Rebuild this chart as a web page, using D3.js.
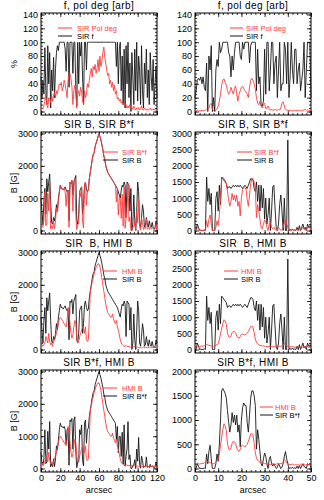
<!DOCTYPE html>
<html>
<head>
<meta charset="utf-8">
<script src="https://cdn.jsdelivr.net/npm/d3@7"></script>
<style>
body { margin: 0; background: #fff; }
svg text { font-family: 'Liberation Sans', Arial, Helvetica, sans-serif; fill: #000; }
</style>
</head>
<body>
<svg width="324" height="500"></svg>
<script>
//scan samples: left scan every 1 arcsec, right scan every 0.5 arcsec
const leftStep = 1;
const rightStep = 0.5;

//left scan (0-120 arcsec)
const leftF = [50,20,45,25,92,30,10,95,40,85,
  5,60,30,78,20,62,85,95,88,100,
  100,100,100,100,100,90,58,100,100,35,
  100,100,100,55,100,100,30,8,100,40,
  100,80,100,50,10,100,100,60,100,100,
  100,100,100,100,100,100,100,100,100,100,
  100,100,100,100,100,100,100,100,100,100,
  100,100,100,100,100,100,100,100,65,100,
  40,90,100,30,80,10,90,5,95,40,
  100,20,70,0,85,50,10,90,30,100,
  15,80,60,10,95,30,5,70,40,90,
  20,60,10,85,50,30,75,10,40,65,
  20];
const leftPol = [3,5,4,8,15,25,10,5,20,18,
  12,25,15,22,28,20,30,25,35,40,
  38,42,30,35,45,40,30,20,45,52,
  55,48,35,10,30,38,35,5,25,30,
  22,35,28,15,10,30,20,25,40,35,
  45,55,62,50,65,60,68,55,62,75,
  58,80,65,72,85,93,78,70,60,52,
  55,40,45,35,42,30,38,25,30,18,
  20,15,18,12,15,10,12,8,10,5,
  8,5,10,4,6,3,8,4,2,5,
  3,6,2,4,8,3,2,5,3,2,
  4,2,3,5,2,3,2,4,2,3,
  2];
const leftB = [1000,600,200,900,1300,500,1600,1200,1500,1750,
  900,250,200,400,300,500,800,600,1000,1200,
  1400,1300,1300,1250,1300,1350,1250,1200,1250,300,
  1500,1450,1550,1100,1500,1600,1700,300,200,500,
  1200,1300,1350,500,800,1400,1500,1300,1200,1250,
  1600,1800,2000,2200,2350,2400,2600,2700,2800,2900,
  3000,2900,2800,2650,2500,2300,2200,2000,1900,1800,
  1750,1700,1650,1600,1550,1500,1450,1400,1350,1300,
  1200,1100,1000,1250,1400,1350,1500,1400,400,1500,
  1450,1400,600,1300,0,200,1100,300,0,600,
  1500,1200,200,100,400,800,600,100,150,400,
  200,100,300,150,100,250,100,50,100,300,
  200];
const leftBf = [500,150,100,300,1200,150,200,1150,600,1450,
  50,150,60,300,60,300,700,570,880,1200,
  1400,1300,1300,1250,1300,1200,750,1200,1250,100,
  1500,1450,1550,600,1500,1600,500,25,200,200,
  1200,1050,1350,250,80,1400,1500,780,1200,1250,
  1600,1800,2000,2200,2350,2400,2600,2700,2800,2900,
  3000,2900,2800,2650,2500,2300,2200,2000,1900,1800,
  1750,1700,1650,1600,1550,1500,1450,1400,880,1300,
  480,990,1000,375,1120,135,1350,70,380,600,
  1450,280,420,0,0,100,110,270,0,600,
  225,960,120,10,380,240,30,70,60,360,
  40,60,30,130,50,75,75,5,40,195,
  40];
const leftHMI = [200,150,100,150,200,400,300,200,500,250,
  150,200,100,250,300,400,500,650,800,950,
  1000,950,900,850,800,750,700,900,1300,1100,
  800,500,350,450,700,900,800,400,200,250,
  400,500,600,700,650,500,700,300,250,300,
  1000,1800,1950,2100,2200,2350,2450,2550,2600,2650,
  2650,2550,2400,2200,2000,1800,1600,1400,1250,1150,
  1100,1050,1000,1000,1100,950,850,800,900,700,
  600,450,300,200,150,120,100,100,120,100,
  90,100,80,70,90,60,80,100,70,60,
  80,50,60,70,50,60,80,50,60,70,
  50,60,80,60,50,70,60,80,60,70,
  60];

//right scan (0-50 arcsec)
const rightF = [20,30,45,48,45,50,40,50,35,30,
  70,0,80,60,95,0,20,0,60,75,
  65,100,85,90,100,100,100,100,100,85,
  80,50,80,60,85,100,100,100,100,80,
  75,100,90,100,100,100,100,70,95,100,
  100,100,100,30,90,40,50,8,8,15,
  90,25,100,100,30,60,100,100,40,70,
  80,20,60,100,30,40,40,100,90,40,
  100,20,50,100,60,40,90,90,40,60,
  70,30,45,60,100,20,60,100,100,100,
  20];
const rightPol = [1,1,2,1,1,1,2,1,1,2,
  3,2,5,10,12,3,1,1,2,4,
  8,15,25,38,45,47,42,38,30,25,
  28,35,30,25,33,37,25,15,25,30,
  35,36,33,30,28,25,20,35,45,48,
  45,40,32,20,12,10,15,8,5,10,
  12,4,5,8,4,2,3,2,2,3,
  2,2,3,2,5,12,14,8,3,2,
  2,1,2,1,1,2,1,2,1,1,
  2,1,1,2,2,3,2,2,1,2,
  1];
const rightB = [0,20,200,100,0,10,0,0,20,0,
  1650,900,1300,800,1150,0,0,0,1000,1200,
  600,1400,800,1650,1600,1550,1500,1450,1300,1350,
  1350,1300,1350,1400,1350,1400,1350,1400,1350,1400,
  1350,1300,1350,1400,1350,1300,1400,1500,1600,1600,
  1550,1300,1200,1500,900,1400,600,1400,700,1300,
  350,1000,200,500,1000,0,600,1350,1400,700,
  100,0,200,800,1100,600,0,1000,0,0,
  2800,0,30,0,50,0,20,0,100,0,
  150,0,100,200,50,100,0,200,100,150,
  100];
const rightBf = [0,10,100,50,0,5,0,0,10,0,
  300,100,350,480,200,0,0,0,100,300,
  150,500,1000,1600,1650,1600,1550,1450,1200,950,
  750,900,1150,950,1100,900,1100,750,900,450,
  1000,1250,1350,1300,1300,950,750,1100,1450,1600,
  1600,1500,1300,400,800,600,350,100,50,200,
  320,250,100,0,200,250,100,50,100,50,
  0,20,100,50,0,30,100,250,350,200,
  100,0,20,0,30,0,15,0,50,0,
  60,0,50,100,40,30,0,100,80,100,
  20];
const rightHMI = [100,100,110,100,90,100,110,100,120,130,
  150,140,130,120,110,100,100,110,130,150,
  180,300,480,650,800,920,880,780,520,400,
  380,420,520,560,550,520,420,370,350,400,
  470,480,460,450,470,500,560,630,710,720,
  690,520,320,220,170,150,130,120,110,110,
  100,100,90,90,90,80,90,100,90,80,
  90,100,90,100,100,110,130,180,160,120,
  100,90,80,80,90,80,70,80,70,80,
  70,80,90,70,80,70,80,90,70,80,
  70];

//tick labels
const leftXTicks = [0, 20, 40, 60, 80, 100, 120];
const rightXTicks = [0, 10, 20, 30, 40, 50];
const pctTicks = [0, 20, 40, 60, 80, 100, 120, 140];
const bTicks1000 = [0, 1000, 2000, 3000];
const bTicks500 = [0, 500, 1000, 1500, 2000, 2500, 3000];
const bTicks2000 = [0, 500, 1000, 1500, 2000];

const RED = '#ff3c3c';
const BLACK = '#161616';

//column geometry
const cols = [
  {x0: 41, x1: 157, max: 120, step: leftStep, ticks: leftXTicks, minor: 4},
  {x0: 195, x1: 311, max: 50, step: rightStep, ticks: rightXTicks, minor: 2}
];
const rowTop = [13, 132, 251, 370];
const rowH = 102;

const titles = ['f, pol deg [arb]', 'SIR B, SIR B*f', 'SIR  B, HMI B', 'SIR B*f, HMI B'];
const yTitles = ['%', 'B [G]', 'B [G]', 'B [G]'];

//each panel: red series drawn over black series
const panels = [
  {col: 0, row: 0, red: leftPol, black: leftF, redName: 'SIR Pol deg', blackName: 'SIR f',
   yMax: 140, yTicks: pctTicks, minorY: 5, leg: [58, 72, 77, 28]},
  {col: 1, row: 0, red: rightPol, black: rightF, redName: 'SIR Pol deg', blackName: 'SIR f',
   yMax: 140, yTicks: pctTicks, minorY: 5, leg: [230, 243, 246, 28]},
  {col: 0, row: 1, red: leftBf, black: leftB, redName: 'SIR B*f', blackName: 'SIR B',
   yMax: 3000, yTicks: bTicks1000, minorY: 200, leg: [103, 118, 122, 152]},
  {col: 1, row: 1, red: rightBf, black: rightB, redName: 'SIR B*f', blackName: 'SIR B',
   yMax: 3000, yTicks: bTicks500, minorY: 100, leg: [237, 252, 254, 152]},
  {col: 0, row: 2, red: leftHMI, black: leftB, redName: 'HMI B', blackName: 'SIR B',
   yMax: 3000, yTicks: bTicks1000, minorY: 200, leg: [103, 117, 122, 271]},
  {col: 1, row: 2, red: rightHMI, black: rightB, redName: 'HMI B', blackName: 'SIR B',
   yMax: 3000, yTicks: bTicks500, minorY: 100, leg: [224, 238, 241, 271]},
  {col: 0, row: 3, red: leftHMI, black: leftBf, redName: 'HMI B', blackName: 'SIR B*f',
   yMax: 3000, yTicks: bTicks1000, minorY: 200, leg: [103, 117, 122, 388]},
  {col: 1, row: 3, red: rightHMI, black: rightBf, redName: 'HMI B', blackName: 'SIR B*f',
   yMax: 2000, yTicks: bTicks2000, minorY: 100, leg: [260, 273, 275, 407]}
];

var svg = d3.select('svg');

panels.forEach(drawPanel);

function drawPanel(p) {
  var c = cols[p.col];
  var top = rowTop[p.row], bottom = top + rowH;
  var x = d3.scaleLinear().domain([0, c.max]).range([c.x0, c.x1]);
  var y = d3.scaleLinear().domain([-0.036 * p.yMax, 1.0155 * p.yMax]).range([bottom, top]);
  var g = svg.append('g');

  //minor ticks on all four sides (IDL style, pointing in)
  var xMinor = d3.range(0, c.max + 0.001, c.minor);
  var yMinor = d3.range(0, p.yMax * 1.0155, p.minorY);
  addAxis(g, d3.axisBottom(x).tickValues(xMinor).tickSize(-2), 0, bottom, false);
  addAxis(g, d3.axisTop(x).tickValues(xMinor).tickSize(-2), 0, top, false);
  addAxis(g, d3.axisLeft(y).tickValues(yMinor).tickSize(-2), c.x0, 0, false);
  addAxis(g, d3.axisRight(y).tickValues(yMinor).tickSize(-2), c.x1, 0, false);

  //major ticks, labels only on the left and on the bottom row
  addAxis(g, d3.axisBottom(x).tickValues(c.ticks).tickSize(-4).tickPadding(3), 0, bottom, p.row == 3);
  addAxis(g, d3.axisTop(x).tickValues(c.ticks).tickSize(-4), 0, top, false);
  addAxis(g, d3.axisLeft(y).tickValues(p.yTicks).tickSize(-4).tickPadding(3), c.x0, 0, true);
  addAxis(g, d3.axisRight(y).tickValues(p.yTicks).tickSize(-4), c.x1, 0, false);

  //frame
  g.append('rect')
    .attr('x', c.x0).attr('y', top)
    .attr('width', c.x1 - c.x0).attr('height', rowH)
    .attr('fill', 'none').attr('stroke', '#000').attr('stroke-width', 1);

  var line = d3.line()
    .x(function(d, i) { return x(i * c.step); })
    .y(function(d) { return y(d); });

  g.append('path').attr('d', line(p.black))
    .attr('fill', 'none').attr('stroke', BLACK).attr('stroke-width', 0.9);
  g.append('path').attr('d', line(p.red))
    .attr('fill', 'none').attr('stroke', RED).attr('stroke-width', 0.9);

  //title
  g.append('text')
    .attr('x', (c.x0 + c.x1) / 2).attr('y', top - 4)
    .attr('text-anchor', 'middle')
    .style('font-size', '10px').style('letter-spacing', '0.4px').style('white-space', 'pre')
    .text(titles[p.row]);

  //y title only for left column
  if (p.col == 0) {
    g.append('text')
      .attr('transform', 'translate(17,' + (top + rowH / 2) + ') rotate(-90)')
      .attr('text-anchor', 'middle')
      .style('font-size', '9px')
      .text(yTitles[p.row]);
  }

  //x title under the bottom row
  if (p.row == 3) {
    g.append('text')
      .attr('x', (c.x0 + c.x1) / 2).attr('y', 493)
      .attr('text-anchor', 'middle')
      .style('font-size', '9px')
      .text('arcsec');
  }

  //legend
  var L = p.leg;
  g.append('line').attr('x1', L[0]).attr('x2', L[1]).attr('y1', L[3]).attr('y2', L[3])
    .attr('stroke', RED).attr('stroke-width', 1);
  g.append('text').attr('x', L[2]).attr('y', L[3] + 3)
    .style('font-size', '7.5px').style('fill', RED).text(p.redName);
  g.append('line').attr('x1', L[0]).attr('x2', L[1]).attr('y1', L[3] + 8).attr('y2', L[3] + 8)
    .attr('stroke', BLACK).attr('stroke-width', 1);
  g.append('text').attr('x', L[2]).attr('y', L[3] + 11)
    .style('font-size', '7.5px').text(p.blackName);
}

//helper: draw an axis with no domain line; hide labels when not wanted
function addAxis(g, axis, tx, ty, labels) {
  axis.tickFormat(labels ? d3.format('d') : '');
  var a = g.append('g')
    .attr('transform', 'translate(' + tx + ',' + ty + ')')
    .call(axis);
  a.select('.domain').remove();
  a.selectAll('line').attr('stroke', '#000').attr('stroke-width', 0.8);
  a.selectAll('text').style('font-size', '9px').style('fill', '#000')
    .style('font-family', "'Liberation Sans', Arial, sans-serif");
}
</script>
</body>
</html>
